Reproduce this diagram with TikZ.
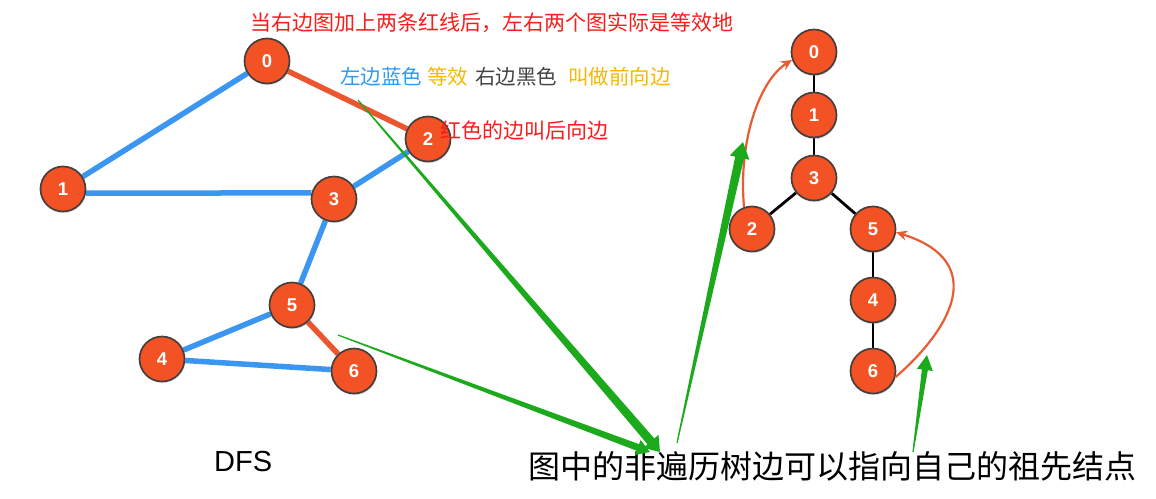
\documentclass[tikz,border=0pt]{standalone}
\usepackage{fontspec}
\setmainfont{Liberation Sans}
\newfontfamily\cjk{Noto Sans CJK SC}
\usetikzlibrary{calc,shadows,backgrounds,arrows.meta}
\definecolor{nodefill}{RGB}{242,82,36}
\definecolor{nodeline}{RGB}{72,62,60}
\definecolor{edgeblue}{RGB}{58,150,240}
\definecolor{edgered}{RGB}{236,86,46}
\definecolor{curvered}{RGB}{232,92,52}
\definecolor{arrowgreen}{RGB}{28,170,28}
\definecolor{txtred}{RGB}{250,28,28}
\definecolor{txtblue}{RGB}{45,155,245}
\definecolor{txtyellow}{RGB}{246,185,0}
\definecolor{txtgray}{RGB}{68,68,68}
\newcommand\grarrow[5]{%
  \coordinate (gb) at ($(#2)!#5!(#1)$);
  \fill[arrowgreen] ($(#1)!0.6pt!-90:(gb)$) -- ($(gb)!#3!90:(#1)$) -- ($(gb)!#4!90:(#1)$) -- (#2)
    -- ($(gb)!#4!-90:(#1)$) -- ($(gb)!#3!-90:(#1)$) -- ($(#1)!0.6pt!90:(gb)$) -- cycle;}
\tikzset{
  vtx/.style={circle, fill=nodefill, draw=nodeline, line width=1.7pt, minimum size=45pt, inner sep=0pt,
    text=white, font=\fontsize{18.5}{18.5}\selectfont\bfseries,
    drop shadow={opacity=0.25, shadow xshift=0.8pt, shadow yshift=-1.6pt}},
  blueedge/.style={draw=edgeblue, line width=5.5pt},
  rededge/.style={draw=edgered, line width=5.5pt},
  treeedge/.style={draw=black, line width=2.8pt},
  backedge/.style={draw=curvered, line width=2.2pt, -{Stealth[length=11pt,width=10pt]}},
  txt/.style={anchor=west, inner sep=0pt},
}
\begin{document}
\begin{tikzpicture}[x=1pt,y=-1pt]
\useasboundingbox (0,0) rectangle (1156,498);
% left graph
\node[vtx] (l0) at (267,61) {0};
\node[vtx] (l1) at (63,189) {1};
\node[vtx] (l2) at (428,139) {2};
\node[vtx] (l3) at (334,199) {3};
\node[vtx] (l5) at (292,305) {5};
\node[vtx] (l4) at (162,359) {4};
\node[vtx] (l6) at (354,371) {6};
% right tree
\node[vtx] (r0) at (814,52) {0};
\node[vtx] (r1) at (814,115) {1};
\node[vtx] (r3) at (814,178) {3};
\node[vtx] (r2) at (752,229) {2};
\node[vtx] (r5) at (873,229) {5};
\node[vtx] (r4) at (873,300) {4};
\node[vtx] (r6) at (873,371) {6};
\begin{pgfonlayer}{background}
\fill[white] (0,0) rectangle (1156,498);
\draw[blueedge] (l0) -- (l1);
\draw[rededge] (l0) -- (l2);
\draw[blueedge] (l1.-10) -- (l3.165);
\draw[blueedge] (l2) -- (l3);
\draw[blueedge] (l3) -- (l5);
\draw[blueedge] (l5) -- (l4);
\draw[blueedge] (l4) -- (l6);
\draw[rededge] (l5) -- (l6);
\draw[treeedge] (r0) -- (r1);
\draw[treeedge] (r1) -- (r3);
\draw[treeedge] (r3) -- (r2);
\draw[treeedge] (r3) -- (r5);
\draw[treeedge] (r5) -- (r4);
\draw[treeedge] (r4) -- (r6);
\end{pgfonlayer}
% back edges
\draw[backedge] (r2.110) .. controls (738,140) and (760,80) .. (r0.200);
\draw[backedge] (r6.-15) .. controls (950,330) and (990,262) .. (r5.-8);
% texts
\node[txt, text=txtred, font=\cjk\fontsize{21}{24}\selectfont] (t1) at (250,23) {当右边图加上两条红线后，左右两个图实际是等效地};
\node[txt, text=txtblue, font=\cjk\fontsize{20.5}{24}\selectfont] (t2a) at (340,77) {左边蓝色};
\node[txt, text=txtyellow, font=\cjk\fontsize{20.5}{24}\selectfont] (t2b) at (427,77) {等效};
\node[txt, text=txtgray, font=\cjk\fontsize{20.5}{24}\selectfont] (t2c) at (475,77) {右边黑色};
\node[txt, text=txtyellow, font=\cjk\fontsize{20.5}{24}\selectfont] (t2d) at (568,77) {叫做前向边};
\node[txt, text=txtred, font=\cjk\fontsize{21}{24}\selectfont] (t3) at (440,130) {红色的边叫后向边};
\node[txt, text=black, font=\cjk\fontsize{32}{36}\selectfont] (t4) at (528,466) {图中的非遍历树边可以指向自己的祖先结点};
\node[txt, text=black, font=\fontsize{29}{32}\selectfont] (dfs) at (214,462) {DFS};
% green arrows
\coordinate (g1s) at (358,100); \coordinate (g1t) at (660,452);
\coordinate (g2s) at (338,335); \coordinate (g2t) at (650,452);
\coordinate (g3s) at (677,443); \coordinate (g3t) at (743,142);
\coordinate (g4s) at (913,452); \coordinate (g4t) at (927,355);
\grarrow{g1s}{g1t}{4.5pt}{10pt}{14pt}
\grarrow{g2s}{g2t}{3.5pt}{8pt}{13pt}
\grarrow{g3s}{g3t}{4.5pt}{10pt}{16pt}
\grarrow{g4s}{g4t}{3pt}{8pt}{15pt}
\end{tikzpicture}
\end{document}
